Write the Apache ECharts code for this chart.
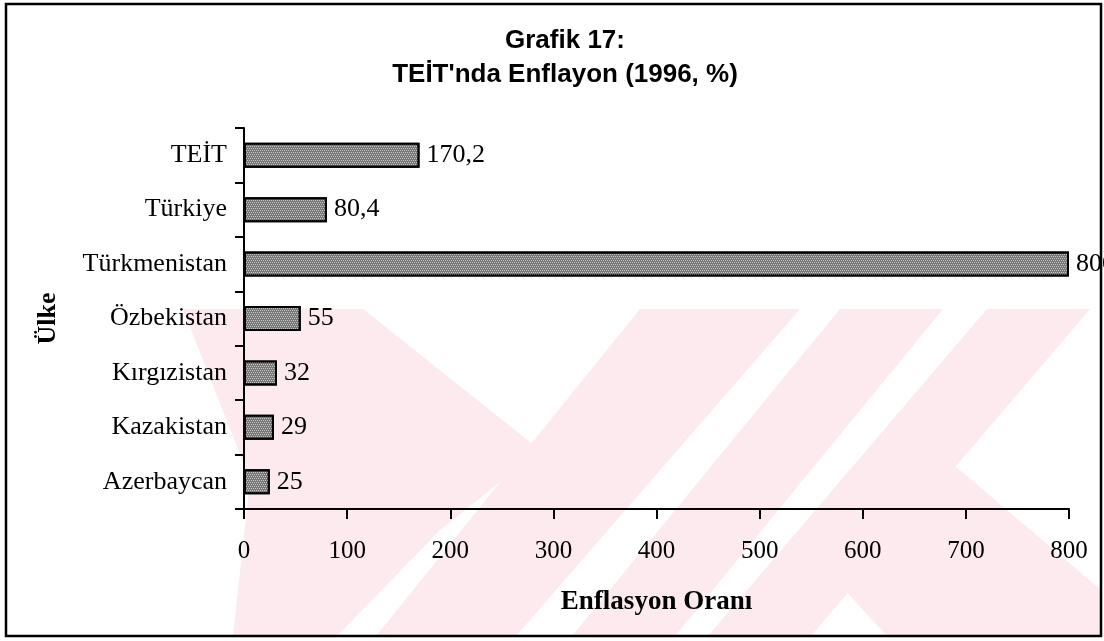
<!DOCTYPE html>
<html>
<head>
<meta charset="utf-8">
<script src="https://cdn.jsdelivr.net/npm/echarts@6/dist/echarts.min.js"></script>
<style>
  html, body { margin: 0; padding: 0; background: #fff; }
  #chart { width: 1104px; height: 641px; }
</style>
</head>
<body>
<div id="chart"></div>
<script>
// ulkeler, yukaridan asagiya
var ulkeler = ['TEİT', 'Türkiye', 'Türkmenistan', 'Özbekistan', 'Kırgızistan', 'Kazakistan', 'Azerbaycan'];
var enflasyon = [170.2, 80.4, 800, 55, 32, 29, 25];
var xTicks = [0, 100, 200, 300, 400, 500, 600, 700, 800];

var serif = '"Liberation Serif", "Times New Roman", serif';
var pembe = '#fdeaee';

// arka plandaki filigran (soluk pembe seritler)
var filigran = [
  [[183, 309], [363, 309], [540, 450], [440, 530], [337, 636], [233, 636], [250, 480]],
  [[640, 309], [800, 309], [516, 636], [376, 636]],
  [[840, 309], [943, 309], [675, 636], [572, 636]],
  [[987, 309], [1090, 309], [811, 636], [708, 636]],
  [[948, 460], [1101, 590], [1101, 636], [887, 636], [833, 577]]
];

var chart = echarts.init(document.getElementById('chart'));

var graphics = filigran.map(function (pts) {
  return {
    type: 'polygon',
    z: -10,
    silent: true,
    shape: { points: pts },
    style: { fill: pembe }
  };
});
graphics.push({
  type: 'rect',
  z: 100,
  silent: true,
  shape: { x: 6, y: 4, width: 1095, height: 632 },
  style: { fill: 'none', stroke: '#000', lineWidth: 2.5 }
});

chart.setOption({
  backgroundColor: '#fff',
  animation: false,
  title: {
    text: 'Grafik 17:\nTEİT\'nda Enflayon (1996, %)',
    left: 560,
    top: 19,
    textAlign: 'center',
    textStyle: {
      fontFamily: '"Liberation Sans", Arial, sans-serif',
      fontWeight: 'bold',
      fontSize: 26,
      lineHeight: 34,
      color: '#000'
    }
  },
  grid: {
    left: 244,
    right: 35,
    top: 128,
    bottom: 132,
    containLabel: false
  },
  xAxis: {
    type: 'value',
    min: 0,
    max: 800,
    interval: 100,
    name: 'Enflasyon Oranı',
    nameLocation: 'middle',
    nameGap: 80,
    nameTextStyle: {
      fontFamily: serif,
      fontWeight: 'bold',
      fontSize: 27,
      color: '#000'
    },
    axisLine: { show: true, lineStyle: { color: '#000', width: 2 } },
    axisTick: { show: true, length: 10, lineStyle: { color: '#000', width: 2 } },
    splitLine: { show: false },
    axisLabel: {
      margin: 30,
      fontFamily: serif,
      fontSize: 25,
      color: '#000',
      formatter: function (v) { return xTicks.indexOf(v) >= 0 ? String(v) : ''; }
    }
  },
  yAxis: {
    type: 'category',
    data: ulkeler,
    inverse: true,
    name: 'Ülke',
    nameLocation: 'middle',
    nameGap: 183,
    nameRotate: 90,
    nameTextStyle: {
      fontFamily: serif,
      fontWeight: 'bold',
      fontSize: 26,
      color: '#000'
    },
    axisLine: { show: true, lineStyle: { color: '#000', width: 2 } },
    axisTick: { show: true, length: 9, lineStyle: { color: '#000', width: 2 } },
    axisLabel: {
      margin: 17,
      fontFamily: serif,
      fontSize: 26,
      color: '#000'
    }
  },
  series: [{
    type: 'bar',
    data: enflasyon,
    barWidth: 25,
    itemStyle: {
      color: '#777777',
      borderColor: '#000',
      borderWidth: 2,
      decal: {
        symbol: 'rect',
        symbolSize: 1,
        color: 'rgba(255,255,255,0.6)',
        dashArrayX: [[1, 1], [0, 1, 1, 0]],
        dashArrayY: [1, 1],
        rotation: 0
      }
    },
    label: {
      show: true,
      position: 'right',
      distance: 7,
      fontFamily: serif,
      fontSize: 26,
      color: '#000',
      formatter: function (p) { return String(p.value).replace('.', ','); }
    }
  }],
  graphic: graphics
});
</script>
</body>
</html>
